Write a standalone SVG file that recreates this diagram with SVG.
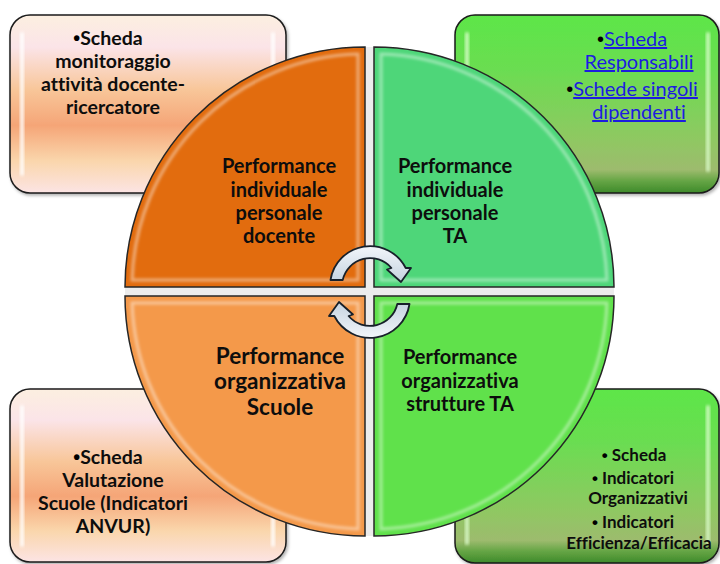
<svg xmlns="http://www.w3.org/2000/svg" width="720" height="564" viewBox="0 0 720 564">
<defs>
<style>
text{font-variant-ligatures:none}
.t{font-family:Lato,"Liberation Sans",sans-serif;font-weight:bold;fill:#0d0d0d;text-anchor:middle}
.bx{font-size:19.5px}
.q{font-size:20px}
.qb{font-size:22.5px}
.sm{font-size:17px}
.lk{font-family:Lato,"Liberation Sans",sans-serif;font-size:20px;text-anchor:middle;fill:#1c1ce0}
.u{text-decoration:underline}
.bu{font-family:"Liberation Sans",sans-serif;fill:#000}
.box{stroke:#1a1a1a;stroke-width:1.5}
.quad{stroke:#262626;stroke-width:1.5}
.bev{fill:none;stroke:#ffffff;stroke-opacity:0.45;stroke-width:3;filter:url(#blur)}
.hl{fill:#ffffff;opacity:0.85;filter:url(#blur)}
.hlg{fill:#dfffd0;opacity:0.8;filter:url(#blur)}
.arr{fill:url(#arrG);stroke:#17202a;stroke-width:1.8;stroke-linejoin:round}
</style>
<linearGradient id="orG" x1="0" y1="0" x2="0" y2="1">
<stop offset="0" stop-color="#FCEFE0"/>
<stop offset="0.18" stop-color="#FBE4E8"/>
<stop offset="0.42" stop-color="#F8C699"/>
<stop offset="0.62" stop-color="#F5A577"/>
<stop offset="0.82" stop-color="#FAD6AC"/>
<stop offset="1" stop-color="#FCE4E4"/>
</linearGradient>
<linearGradient id="grG" x1="0" y1="0" x2="0" y2="1">
<stop offset="0" stop-color="#5DE649"/>
<stop offset="0.3" stop-color="#6ADD51"/>
<stop offset="0.7" stop-color="#8FC862"/>
<stop offset="0.87" stop-color="#9DBB6E"/>
<stop offset="0.93" stop-color="#67A646"/>
<stop offset="1" stop-color="#3E8A2A"/>
</linearGradient>
<linearGradient id="arrG" x1="0" y1="0" x2="0" y2="1">
<stop offset="0" stop-color="#F2F6FA"/>
<stop offset="1" stop-color="#C5D3E0"/>
</linearGradient>
<filter id="blur" x="-20%" y="-20%" width="140%" height="140%"><feGaussianBlur stdDeviation="1.4"/></filter>
<filter id="sh" x="-10%" y="-10%" width="130%" height="130%"><feDropShadow dx="1.5" dy="2" stdDeviation="1.5" flood-color="#000" flood-opacity="0.3"/></filter>
</defs>

<g id="box-top-left">
<rect class="box" x="10" y="15" width="276" height="178" rx="20" fill="url(#orG)" filter="url(#sh)"/>
<rect class="hl" x="20" y="32" width="4" height="144" rx="2"/>
<rect class="hl" x="271" y="32" width="4" height="144" rx="2"/>
<text class="t bx"><tspan x="108" y="45"><tspan class="bu">•</tspan>Scheda</tspan><tspan x="113" y="68">monitoraggio</tspan><tspan x="113" y="91">attività docente-</tspan><tspan x="113" y="114">ricercatore</tspan></text>
</g>

<g id="box-top-right">
<rect class="box" x="455" y="15" width="264" height="178" rx="20" fill="url(#grG)" filter="url(#sh)"/>
<rect class="hlg" x="465" y="32" width="4" height="140" rx="2"/>
<rect class="hlg" x="706" y="32" width="4" height="140" rx="2"/>
<text class="lk"><tspan x="632" y="46"><tspan class="bu">•</tspan><tspan class="u">Scheda</tspan></tspan></text>
<text class="lk u" x="639" y="69">Responsabili</text>
<text class="lk"><tspan x="632" y="96"><tspan class="bu">•</tspan><tspan class="u">Schede singoli</tspan></tspan></text>
<text class="lk u" x="639" y="119">dipendenti</text>
</g>

<g id="box-bottom-left">
<rect class="box" x="10" y="389" width="276" height="173" rx="20" fill="url(#orG)" filter="url(#sh)"/>
<rect class="hl" x="20" y="405" width="4" height="142" rx="2"/>
<rect class="hl" x="271" y="405" width="4" height="142" rx="2"/>
<text class="t bx"><tspan x="108" y="464"><tspan class="bu">•</tspan>Scheda</tspan><tspan x="113" y="487">Valutazione</tspan><tspan x="113" y="510">Scuole (Indicatori</tspan><tspan x="113" y="533">ANVUR)</tspan></text>
</g>

<g id="box-bottom-right">
<rect class="box" x="455" y="389" width="264" height="174" rx="20" fill="url(#grG)" filter="url(#sh)"/>
<rect class="hlg" x="465" y="405" width="4" height="140" rx="2"/>
<rect class="hlg" x="706" y="405" width="4" height="140" rx="2"/>
<text class="t sm"><tspan x="634" y="461"><tspan class="bu">•</tspan> Scheda</tspan><tspan x="633" y="484"><tspan class="bu">•</tspan> Indicatori</tspan><tspan x="638" y="504">Organizzativi</tspan><tspan x="633" y="528"><tspan class="bu">•</tspan> Indicatori</tspan><tspan x="639" y="549">Efficienza/Efficacia</tspan></text>
</g>

<g id="gap">
<rect x="364" y="47" width="11" height="489" fill="#ECECEC"/>
<rect x="125" y="286" width="489" height="11" fill="#ECECEC"/>
</g>

<g id="quad-top-left">
<path class="quad" d="M365,287 L125,287 A240,240 0 0 1 365,47 Z" fill="#E26C0E"/>
<path class="bev" d="M358,280 L132.1,280 A233,233 0 0 1 358,54.1 Z"/>
<text class="t q"><tspan x="279" y="173">Performance</tspan><tspan x="279" y="197">individuale</tspan><tspan x="279" y="220">personale</tspan><tspan x="279" y="243">docente</tspan></text>
</g>

<g id="quad-top-right">
<path class="quad" d="M374,287 L374,47 A240,240 0 0 1 614,287 Z" fill="#4ED679"/>
<path class="bev" d="M381,280 L381,54.1 A233,233 0 0 1 606.9,280 Z"/>
<text class="t q"><tspan x="455" y="173">Performance</tspan><tspan x="455" y="197">individuale</tspan><tspan x="455" y="220">personale</tspan><tspan x="455" y="243">TA</tspan></text>
</g>

<g id="quad-bottom-left">
<path class="quad" d="M365,296 L365,536 A240,240 0 0 1 125,296 Z" fill="#F4994A"/>
<path class="bev" d="M358,303 L358,528.9 A233,233 0 0 1 132.1,303 Z"/>
<text class="t qb"><tspan x="280" y="364">Performance</tspan><tspan x="280" y="389">organizzativa</tspan><tspan x="280" y="415">Scuole</tspan></text>
</g>

<g id="quad-bottom-right">
<path class="quad" d="M374,296 L614,296 A240,240 0 0 1 374,536 Z" fill="#60E14B"/>
<path class="bev" d="M381,303 L606.9,303 A233,233 0 0 1 381,528.9 Z"/>
<text class="t q"><tspan x="460" y="364">Performance</tspan><tspan x="460" y="388">organizzativa</tspan><tspan x="460" y="411">strutture TA</tspan></text>
</g>

<g id="connectors">
<path id="arrow-top" class="arr" d="M330.5,280 A40,40 0 0 1 405.7,268 L411,268 L401,282 L387,269.5 L391.4,268 A28,28 0 0 0 342.7,280 Z"/>
<path id="arrow-bottom" class="arr" transform="rotate(180 370 292)" d="M330.5,280 A40,40 0 0 1 405.7,268 L411,268 L401,282 L387,269.5 L391.4,268 A28,28 0 0 0 342.7,280 Z"/>
</g>
</svg>
